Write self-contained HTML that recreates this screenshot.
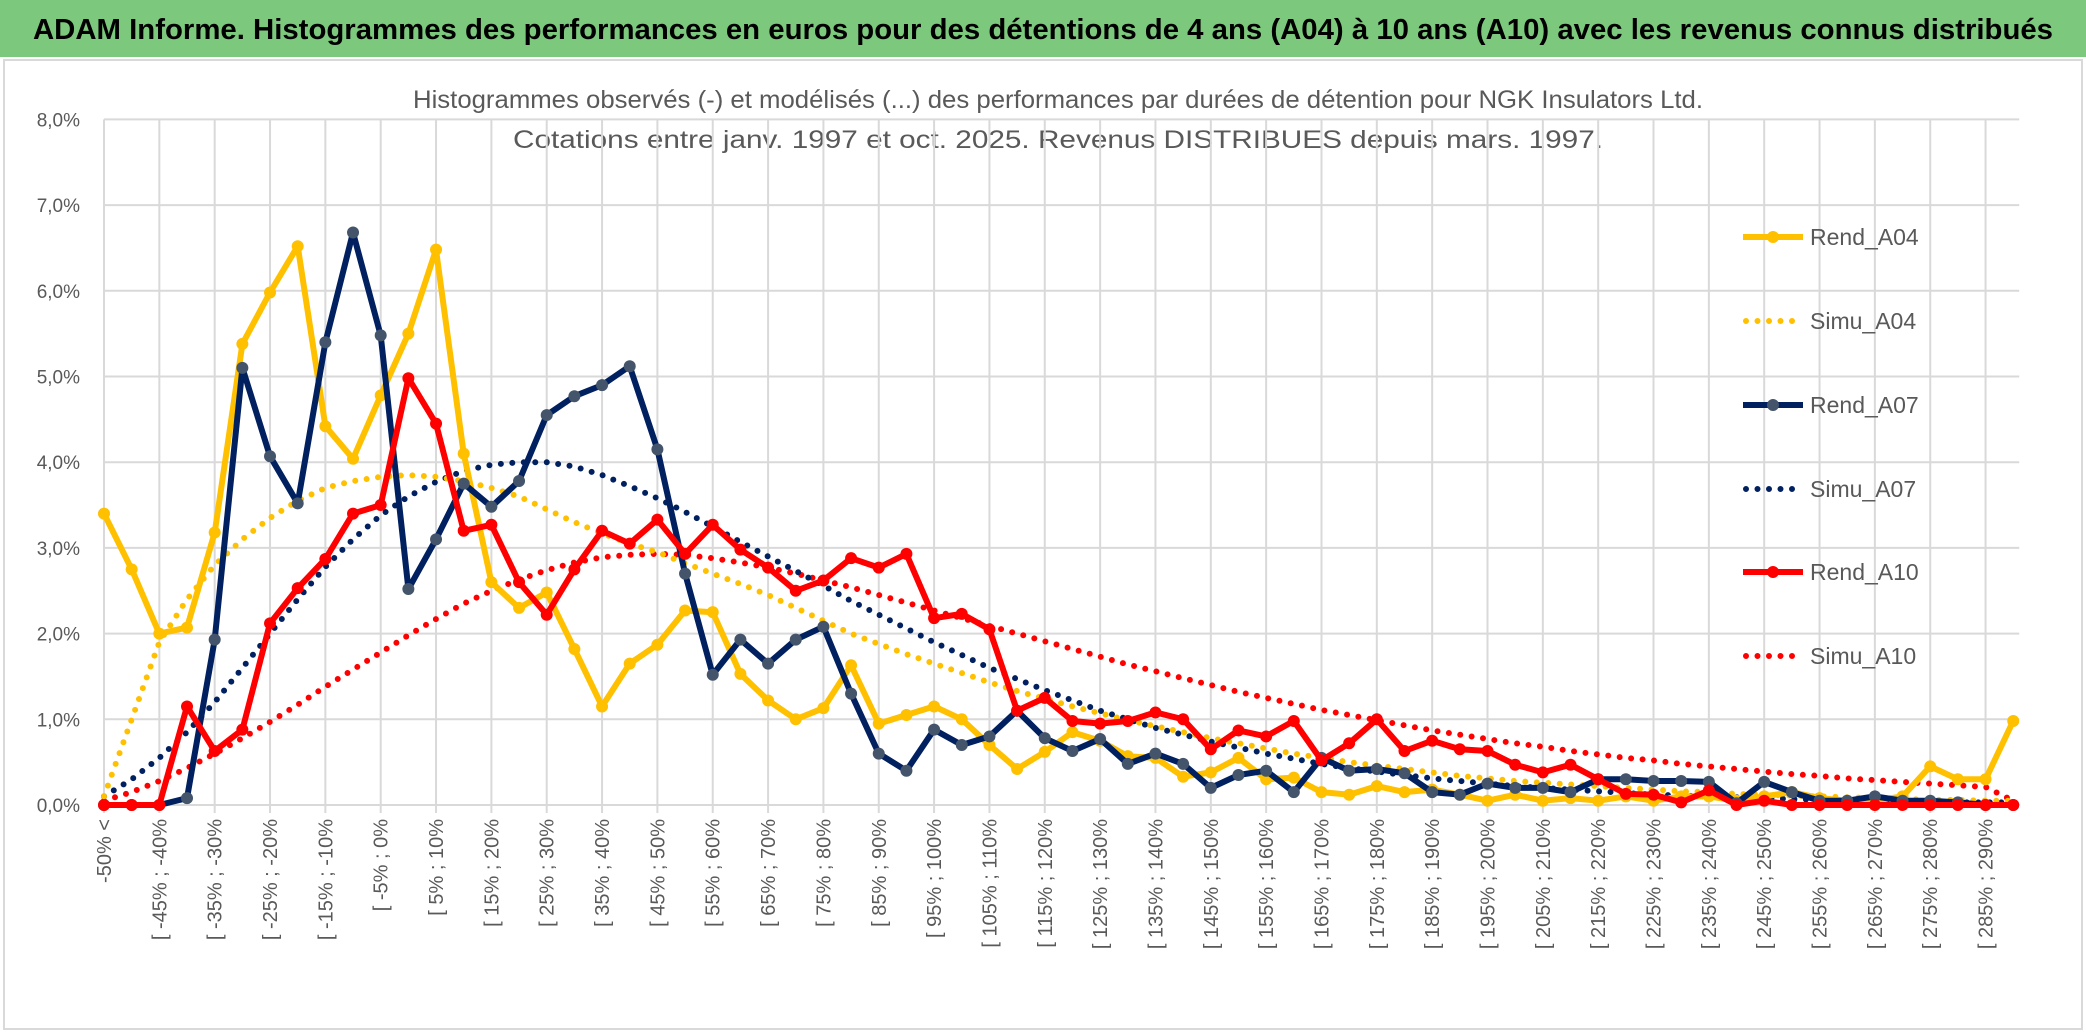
<!DOCTYPE html>
<html><head><meta charset="utf-8"><style>
html,body{margin:0;padding:0;background:#fff;}
svg{display:block;font-family:"Liberation Sans Narrow","Liberation Sans",sans-serif;}
</style></head><body>
<svg id="chart" width="2086" height="1033" viewBox="0 0 2086 1033" xmlns="http://www.w3.org/2000/svg">
<rect x="0" y="0" width="2086" height="1033" fill="#fff"/>
<rect x="0" y="0" width="2086" height="57" fill="#7cc87c"/>
<text x="1043" y="39" text-anchor="middle" font-size="29" font-weight="bold" fill="#000" textLength="2020" lengthAdjust="spacingAndGlyphs">ADAM Informe. Histogrammes des performances en euros pour des détentions de 4 ans (A04) à 10 ans (A10) avec les revenus connus distribués</text>
<rect x="4" y="60" width="2078" height="969" fill="none" stroke="#d9d9d9" stroke-width="2"/>
<text x="1058" y="108" text-anchor="middle" font-size="25" fill="#595959" textLength="1290" lengthAdjust="spacingAndGlyphs">Histogrammes observés (-) et modélisés (...) des performances par durées de détention pour NGK Insulators Ltd.</text>
<text x="1058" y="148" text-anchor="middle" font-size="25" fill="#595959" textLength="1090" lengthAdjust="spacingAndGlyphs">Cotations entre janv. 1997 et oct. 2025. Revenus DISTRIBUES depuis mars. 1997.</text>
<g id="grid"></g><g id="axes"></g><g id="series"></g><g id="legend"></g>
</svg>
<script>
const yTicks=[0,1,2,3,4,5,6,7,8];
const rendA04=[3.4,2.75,2.0,2.07,3.18,5.38,5.98,6.52,4.42,4.04,4.78,5.5,6.48,4.1,2.6,2.3,2.48,1.82,1.15,1.65,1.87,2.27,2.25,1.53,1.22,1.0,1.13,1.63,0.95,1.05,1.15,1.0,0.7,0.42,0.62,0.85,0.75,0.57,0.55,0.33,0.38,0.55,0.3,0.32,0.15,0.12,0.22,0.15,0.18,0.12,0.05,0.12,0.05,0.08,0.05,0.1,0.05,0.1,0.1,0.05,0.1,0.15,0.08,0.05,0.05,0.1,0.45,0.3,0.3,0.98];
const simuA04=[0.1,1.0,1.9,2.4,2.8,3.1,3.35,3.55,3.7,3.78,3.83,3.85,3.83,3.78,3.7,3.6,3.45,3.3,3.17,3.05,2.95,2.82,2.7,2.58,2.45,2.3,2.15,2.0,1.88,1.76,1.65,1.54,1.43,1.33,1.24,1.15,1.07,0.99,0.92,0.85,0.78,0.72,0.66,0.6,0.55,0.5,0.46,0.42,0.38,0.34,0.31,0.28,0.26,0.24,0.22,0.2,0.18,0.16,0.15,0.13,0.12,0.11,0.1,0.09,0.08,0.07,0.06,0.06,0.05,0.05];
const rendA07=[0,0,0,0.08,1.93,5.1,4.07,3.52,5.4,6.68,5.48,2.52,3.1,3.75,3.48,3.78,4.55,4.77,4.9,5.12,4.15,2.7,1.52,1.93,1.65,1.93,2.08,1.3,0.6,0.4,0.88,0.7,0.8,1.1,0.78,0.63,0.77,0.48,0.6,0.48,0.2,0.35,0.4,0.15,0.55,0.4,0.42,0.37,0.15,0.12,0.25,0.2,0.2,0.15,0.3,0.3,0.28,0.28,0.27,0.02,0.27,0.15,0.05,0.05,0.1,0.05,0.05,0.03,0,0];
const simuA07=[0.1,0.3,0.55,0.85,1.2,1.6,2.0,2.4,2.78,3.1,3.38,3.6,3.77,3.9,3.97,4.0,4.0,3.95,3.85,3.72,3.58,3.42,3.25,3.07,2.9,2.73,2.56,2.38,2.22,2.06,1.9,1.75,1.6,1.47,1.34,1.22,1.1,1.0,0.9,0.82,0.74,0.67,0.6,0.54,0.48,0.43,0.39,0.35,0.31,0.28,0.25,0.22,0.2,0.18,0.16,0.14,0.12,0.11,0.1,0.09,0.08,0.07,0.06,0.05,0.05,0.04,0.04,0.03,0.03,0.03];
const rendA10=[0,0,0,1.15,0.63,0.88,2.12,2.53,2.87,3.4,3.5,4.98,4.45,3.2,3.27,2.6,2.22,2.75,3.2,3.05,3.33,2.93,3.27,2.98,2.77,2.5,2.62,2.88,2.77,2.93,2.18,2.23,2.05,1.1,1.25,0.98,0.95,0.98,1.08,1.0,0.65,0.87,0.8,0.98,0.52,0.72,1.0,0.63,0.75,0.65,0.63,0.47,0.38,0.47,0.3,0.13,0.12,0.03,0.17,0,0.05,0,0,0,0,0,0,0,0,0];
const simuA10=[0.05,0.15,0.28,0.43,0.6,0.78,0.97,1.17,1.38,1.58,1.78,1.98,2.17,2.35,2.5,2.63,2.74,2.83,2.89,2.92,2.93,2.92,2.88,2.83,2.77,2.7,2.62,2.54,2.45,2.36,2.27,2.18,2.09,2.0,1.91,1.82,1.73,1.64,1.56,1.48,1.4,1.32,1.25,1.18,1.11,1.05,0.99,0.93,0.87,0.82,0.77,0.72,0.68,0.63,0.59,0.55,0.52,0.48,0.45,0.42,0.39,0.36,0.34,0.31,0.29,0.27,0.25,0.23,0.21,0.05];
const seriesNames=["Rend_A04","Simu_A04","Rend_A07","Simu_A07","Rend_A10","Simu_A10"];

const NS="http://www.w3.org/2000/svg";
const X0=104, XSTEP=27.67, Y0=805, YUNIT=85.7, N=rendA04.length;
function xs(i){return X0+i*XSTEP;}
function ys(v){return Y0-v*YUNIT;}
function mk(tag,attrs,parent){const e=document.createElementNS(NS,tag);for(const k in attrs)e.setAttribute(k,attrs[k]);parent.appendChild(e);return e;}
function catLabel(i){if(i===0)return "-50% <";const lo=-50+5*(i-1);return "[ "+lo+"% ; "+(lo+5)+"%";}

const grid=document.getElementById('grid'), axes=document.getElementById('axes');
const xRight=xs(N-1)+6;
yTicks.forEach(t=>{
  const l=mk('line',{x1:X0,x2:xRight,y1:ys(t),y2:ys(t),stroke:'#d9d9d9','stroke-width':2},grid);
  
  
  const tx=mk('text',{x:X0-24,y:ys(t)+7,'text-anchor':'end','font-size':19,fill:'#595959'},axes);
  tx.textContent=t.toFixed(1).replace('.',',')+'%';
  
  
});
for(let i=0;i<N;i+=2){
  const l=mk('line',{x1:xs(i),x2:xs(i),y1:ys(8),y2:Y0+8,stroke:'#d9d9d9','stroke-width':2},grid);
  
  
  const tx=mk('text',{transform:'translate('+(xs(i)+7)+','+(Y0+14)+') rotate(-90)','text-anchor':'end','font-size':20,fill:'#595959'},axes);
  tx.textContent=catLabel(i);
  
  
}

const S=document.getElementById('series');
function pts(arr){return arr.map((v,i)=>xs(i).toFixed(1)+','+ys(v).toFixed(1)).join(' ');}
function dotted(arr,color,name){
  const p=mk('polyline',{points:pts(arr),fill:'none',stroke:color,'stroke-width':6,'stroke-linecap':'round','stroke-dasharray':'0 11.5'},S);
  
  
}
function solid(arr,color,mcolor,name){
  const g=mk('g',{},S);
  
  
  mk('polyline',{points:pts(arr),fill:'none',stroke:color,'stroke-width':6,'stroke-linejoin':'round'},g);
  arr.forEach((v,i)=>{
    const c=mk('circle',{cx:xs(i),cy:ys(v),r:6,fill:mcolor},g);
    
    
  });
}
dotted(simuA10,'#ff0000','simu-a10-line');
dotted(simuA07,'#002060','simu-a07-line');
dotted(simuA04,'#ffc000','simu-a04-line');
solid(rendA04,'#ffc000','#ffc000','rend-a04-line');
solid(rendA07,'#002060','#44546a','rend-a07-line');
solid(rendA10,'#ff0000','#ff0000','rend-a10-line');

const L=document.getElementById('legend');
const legColors=['#ffc000','#ffc000','#002060','#002060','#ff0000','#ff0000'];
const legY=[237,321,405,489,572,656];
seriesNames.forEach((nm,k)=>{
  const g=mk('g',{},L);
  
  
  if(k%2===0){
    mk('line',{x1:1743,x2:1803,y1:legY[k],y2:legY[k],stroke:legColors[k],'stroke-width':6},g);
    mk('circle',{cx:1773,cy:legY[k],r:6,fill:k===2?'#44546a':legColors[k]},g);
  } else {
    mk('line',{x1:1746,x2:1803,y1:legY[k],y2:legY[k],stroke:legColors[k],'stroke-width':6,'stroke-linecap':'round','stroke-dasharray':'0 11.5'},g);
  }
  const t=mk('text',{x:1810,y:legY[k]+8,'font-size':23,fill:'#595959'},g);
  t.textContent=nm;
});
</script>
</body></html>
